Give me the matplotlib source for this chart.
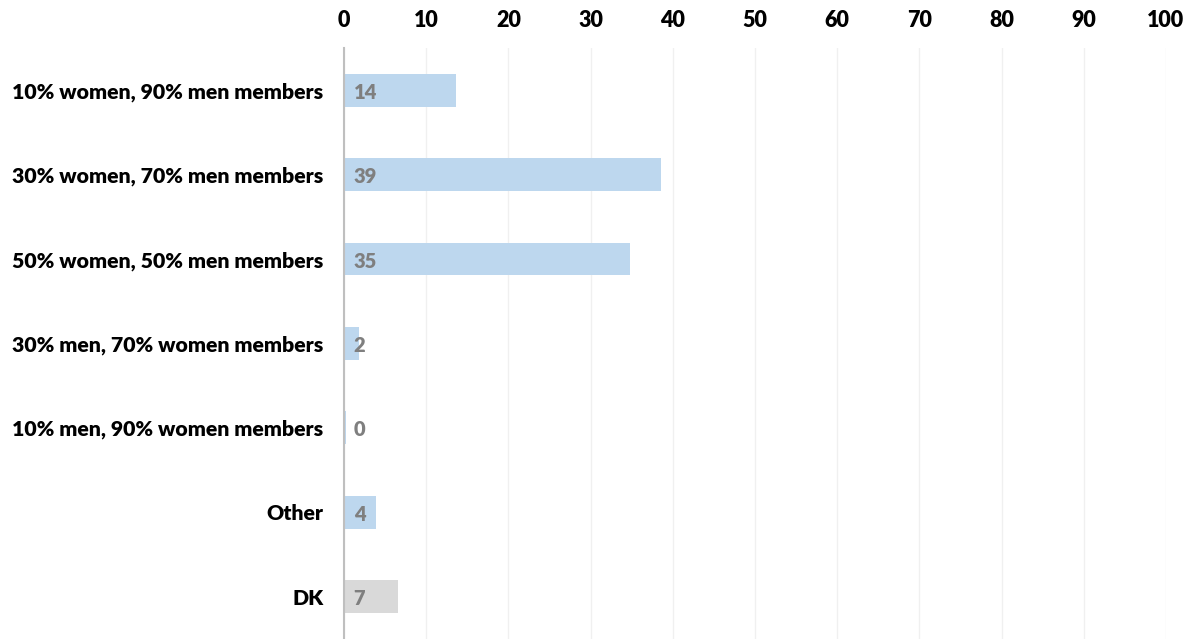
import matplotlib
matplotlib.use("Agg")
import matplotlib.pyplot as plt
import numpy as np

plt.rcParams["font.family"] = ["Lato", "DejaVu Sans"]

categories = [
    "10% women, 90% men members",
    "30% women, 70% men members",
    "50% women, 50% men members",
    "30% men, 70% women members",
    "10% men, 90% women members",
    "Other",
    "DK",
]
shares = [13.6, 38.6, 34.8, 1.8, 0.2, 3.9, 6.6]
colors = ["#BDD7EE"] * 6 + ["#D9D9D9"]
xticks = list(range(0, 101, 10))

fig = plt.figure(figsize=(11.92, 6.39), dpi=100)
ax = fig.add_axes([0.2886, 0.0, 0.6895, 0.925])

y = np.arange(len(categories))
ax.barh(y, shares, height=0.39, color=colors, zorder=2)

for yi, v in zip(y, shares):
    ax.annotate(f"{v:.0f}", xy=(0, yi), xytext=(7, -1.5), textcoords="offset points",
                ha="left", va="center", fontsize=14.5, fontweight="heavy",
                color="#7F7F7F", zorder=3)

ax.set_xlim(0, 100)
ax.set_ylim(len(categories) - 0.5, -0.5)
ax.set_yticks(y)
ax.set_yticklabels(categories, fontsize=15.3, fontweight="heavy")
ax.set_xticks(xticks)
ax.set_xticklabels([str(t) for t in xticks], fontsize=15.5, fontweight="heavy")
ax.xaxis.tick_top()
ax.tick_params(axis="x", length=0, pad=12)
ax.tick_params(axis="y", length=0, pad=15)

ax.grid(axis="x", color="#F0F0F0", linewidth=1, zorder=0)
for side in ["top", "right", "bottom"]:
    ax.spines[side].set_visible(False)
ax.spines["left"].set_color("#BFBFBF")
ax.spines["left"].set_linewidth(1.5)
ax.spines["left"].set_zorder(4)

fig.savefig("out.png", dpi=100)
